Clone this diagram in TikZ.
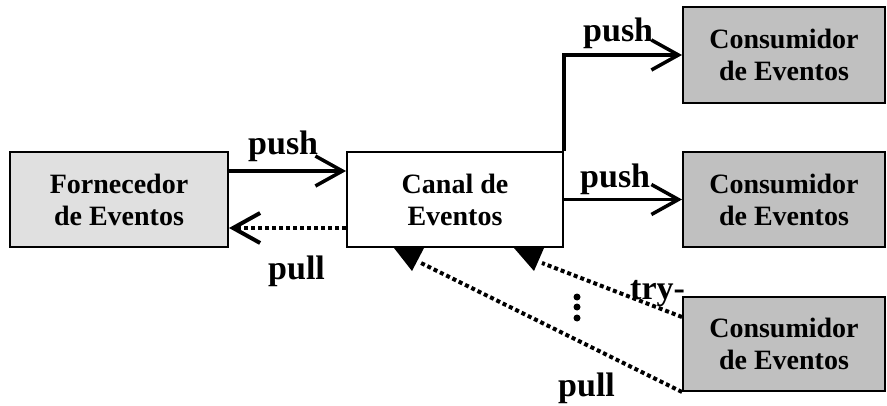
\documentclass[tikz,border=0pt]{standalone}
\usepackage{fontspec}
\setmainfont{Liberation Serif}
\usetikzlibrary{arrows.meta,calc}

\definecolor{c1}{RGB}{224,224,224}
\definecolor{c2}{RGB}{192,192,192}

\tikzstyle{b1} = [draw, line width=2pt, inner sep=0pt, align=center,
  font=\fontsize{28}{32}\selectfont\bfseries]
\tikzstyle{l1} = [anchor=base west, inner sep=0pt,
  font=\fontsize{34}{36}\selectfont\bfseries]
\tikzstyle{a1} = [line width=3.5pt, -{Straight Barb[length=27pt,width=30pt]}]
\tikzstyle{d1} = [line width=4pt, dash pattern=on 4pt off 3pt]

\begin{document}
\begin{tikzpicture}[x=1pt, y=1pt]
  \useasboundingbox (0,0) rectangle (887,405);

  % boxes
  \node[b1, fill=c1, minimum width=218pt, minimum height=95pt] (forn)
    at (119,205.5) {Fornecedor\\de Eventos};
  \node[b1, fill=white, minimum width=216pt, minimum height=95pt] (canal)
    at (455,205.5) {Canal de\\Eventos};
  \node[b1, fill=c2, minimum width=202pt, minimum height=96pt] (cons1)
    at (784,350) {Consumidor\\de Eventos};
  \node[b1, fill=c2, minimum width=202pt, minimum height=95pt] (cons2)
    at (784,205.5) {Consumidor\\de Eventos};
  \node[b1, fill=c2, minimum width=202pt, minimum height=94pt] (cons3)
    at (784,61) {Consumidor\\de Eventos};

  % push / pull
  \draw[a1] ([yshift=28.5pt]forn.east) -- ([yshift=28.5pt]canal.west);
  \draw[a1, d1] ([yshift=-28.5pt]canal.west) -- ([yshift=-28.5pt]forn.east);
  \draw[a1] (canal.north east) |- (cons1.west);
  \draw[a1] (canal.east) -- (cons2.west);

  % try-pull / pull from the third consumer
  \coordinate (tipA) at ($(canal.south west)+(66,-23)$);
  \coordinate (tipB) at ($(canal.south west)+(188,-23)$);
  \coordinate (endA) at ($(canal.south west)+(75,-15)$);
  \coordinate (endB) at ($(canal.south west)+(196,-15)$);
  \draw[d1] (cons3.south west) -- (endA);
  \draw[d1] ([yshift=-21pt]cons3.north west) -- (endB);
  \fill ($(canal.south west)+(48,0)$) -- ($(canal.south west)+(78,0)$) -- (tipA) -- cycle;
  \fill ($(canal.south west)+(168,0)$) -- ($(canal.south west)+(198,0)$) -- (tipB) -- cycle;
  \foreach \y in {87,98,108}
    \fill (577,\y) circle (3.5);

  % labels
  \node[l1] (lpush1) at (248,250) {push};
  \node[l1] (lpush2) at (583,363) {push};
  \node[l1] (lpush3) at (580,217) {push};
  \node[l1] (lpull1) at (268,125) {pull};
  \node[l1] (ltry) at (630,106) {try-};
  \node[l1] (lpull2) at (558,9) {pull};
\end{tikzpicture}
\end{document}
